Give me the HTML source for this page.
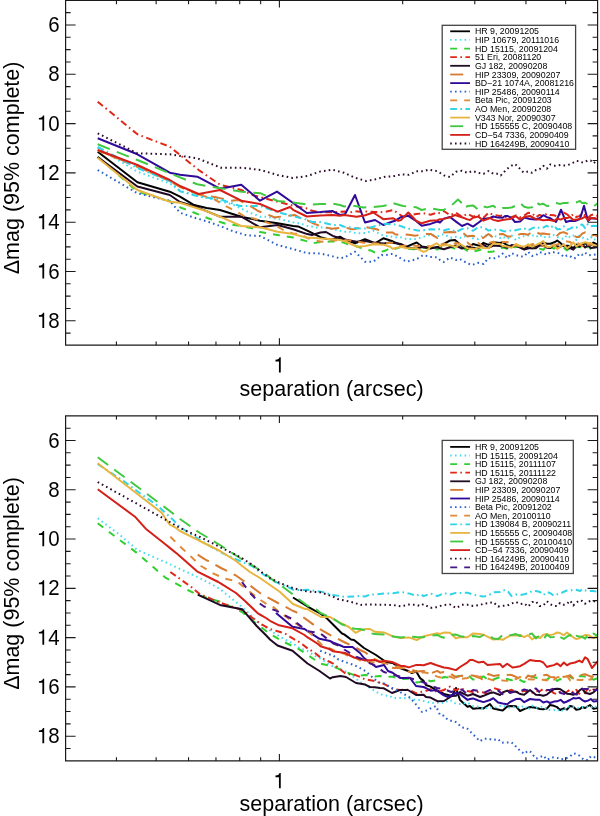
<!DOCTYPE html>
<html><head><meta charset="utf-8"><style>
html,body{margin:0;padding:0;background:#fff;}
svg{display:block;} text{filter:grayscale(1);}
</style></head><body>
<svg width="600" height="816" viewBox="0 0 600 816">
<rect width="600" height="816" fill="#fff"/>
<clipPath id="cliptop"><rect x="65.6" y="0.5" width="532.0" height="344.7"/></clipPath>
<g clip-path="url(#cliptop)" fill="none" stroke-width="2.0" stroke-linejoin="round">
<polyline points="97.7,151.7 137.4,182.3 169.8,191.7 180.0,196.7 193.3,204.7 197.2,205.7 206.7,208.0 220.0,210.0 241.3,216.7 260.0,220.7 277.6,223.3 293.1,225.9 298.0,226.4 307.3,230.6 320.5,237.2 327.0,239.0 332.8,239.2 340.0,236.7 344.2,239.3 355.0,243.3 365.0,239.2 375.0,243.3 383.3,238.3 392.6,241.3 395.0,242.5 400.9,244.8 406.7,246.7 416.7,242.5 423.3,247.5 430.6,248.4 437.3,247.1 440.0,246.7 443.8,243.8 450.0,240.5 455.0,240.0 463.0,247.0 467.5,249.3 473.0,244.0 480.0,246.0 483.5,242.8 488.5,244.9 493.3,242.2 500.0,243.0 502.7,242.1 507.2,245.2 511.6,246.8 515.9,246.3 520.0,247.0 524.2,249.2 528.1,246.7 532.1,244.9 535.9,246.7 540.0,245.0 543.3,242.7 546.9,243.7 550.4,243.7 555.0,242.0 557.2,240.5 560.6,243.1 563.8,246.3 567.0,245.7 570.0,246.0 573.3,248.2 576.3,244.6 579.3,246.4 582.2,245.3 585.1,242.9 588.0,246.0 590.8,245.2 593.5,242.5 598.0,245.0" stroke="#000000"/>
<polyline points="97.7,147.7 137.4,171.7 169.8,183.3 180.0,191.0 197.2,195.5 206.7,198.0 221.0,201.6 233.3,204.7 241.9,208.9 246.7,211.3 260.0,216.7 266.7,216.7 277.6,218.9 283.3,220.0 293.1,222.2 300.0,223.3 307.3,225.9 316.7,227.5 320.5,227.3 333.3,229.2 344.2,231.8 350.0,231.7 356.7,233.3 365.2,233.0 373.3,230.8 383.9,235.9 390.0,236.0 392.6,237.0 400.9,237.4 406.7,239.2 416.4,239.0 423.3,236.7 430.6,234.8 437.3,236.1 440.0,235.8 443.8,233.9 450.0,237.8 456.0,236.8 461.9,238.2 467.5,234.8 473.0,238.3 478.3,238.9 483.5,235.3 488.5,235.4 493.3,235.4 500.0,238.0 502.7,236.6 507.2,239.1 511.6,235.5 515.9,240.1 520.1,237.2 524.2,236.1 528.1,235.6 532.1,235.1 535.9,237.2 539.6,234.7 543.3,237.8 546.9,236.1 550.0,237.0 553.9,235.1 557.2,237.1 560.6,237.9 563.8,239.2 567.0,235.1 570.2,237.4 573.3,235.5 576.3,239.9 579.3,235.7 582.2,237.4 585.1,238.5 588.0,239.2 590.8,237.0 593.5,240.1 598.0,238.0" stroke="#48dcf0" stroke-dasharray="1.6 3.2"/>
<polyline points="97.7,156.7 137.4,191.7 169.8,201.0 180.0,207.3 195.0,213.0 197.2,213.9 210.0,219.0 221.0,222.3 225.0,223.5 241.0,226.0 255.0,229.0 260.0,232.0 277.6,235.0 293.1,237.5 307.3,241.4 312.0,243.4 320.5,242.1 332.8,241.3 340.0,241.7 344.2,242.7 350.0,245.0 355.0,245.7 360.0,247.5 365.2,249.2 371.7,250.8 374.8,252.5 378.3,252.5 385.0,250.8 390.0,248.3 392.6,249.8 400.9,247.1 410.0,249.0 416.4,249.2 423.6,247.1 430.0,247.5 437.3,249.6 440.0,248.0 443.8,248.7 450.0,246.9 456.0,249.2 461.9,247.1 467.5,250.9 473.0,251.7 480.0,250.0 483.5,249.1 488.5,251.9 493.3,251.5 498.1,249.4 502.7,247.6 507.2,248.7 511.6,248.9 515.9,247.0 520.0,247.0 524.2,245.7 528.1,244.4 532.1,248.6 535.9,246.6 539.6,248.6 543.3,249.7 546.9,246.0 550.4,247.1 553.9,248.7 557.2,246.6 560.0,248.0 563.8,247.8 567.0,250.4 570.2,247.3 573.3,249.3 576.3,247.1 579.3,246.6 582.2,248.2 585.1,249.8 588.0,245.8 590.8,249.1 593.5,249.3 598.0,247.0" stroke="#30d030" stroke-dasharray="7 7"/>
<polyline points="97.7,101.7 137.4,134.3 169.8,146.7 198.7,170.0 220.0,184.7 241.3,190.0 253.3,195.3 260.7,197.2 277.6,201.7 293.1,205.6 307.3,208.5 312.0,210.8 320.5,212.3 332.8,212.3 344.2,211.5 350.0,212.5 355.0,211.2 360.0,211.7 365.2,211.4 374.8,211.9 383.9,212.2 393.3,210.0 400.9,215.3 403.3,216.7 408.8,215.6 416.4,214.0 423.6,213.3 430.6,214.7 437.3,212.5 440.0,213.3 443.8,211.0 450.0,215.1 456.0,212.6 461.9,216.8 467.5,213.8 473.0,216.7 478.3,214.9 483.5,217.7 488.5,212.8 493.3,214.8 500.0,216.0 502.7,215.5 507.2,217.6 511.6,217.2 515.9,215.3 520.1,217.2 524.2,215.6 528.1,212.8 532.1,213.1 535.9,217.3 539.6,214.9 543.3,216.2 546.9,213.6 550.0,215.0 553.9,215.2 557.2,216.4 560.6,213.9 563.8,212.5 567.0,214.3 570.2,216.9 573.3,214.1 576.3,217.0 579.3,216.1 582.2,213.5 585.1,215.3 588.0,218.0 590.8,215.2 593.5,214.4 598.0,216.0" stroke="#e02818" stroke-dasharray="6.7 3.4 1.6 3.5"/>
<polyline points="97.7,157.0 137.4,186.5 169.8,195.0 180.0,202.0 197.3,207.3 220.0,216.7 241.3,216.7 260.0,227.3 277.6,225.0 293.1,229.2 307.3,234.1 312.0,235.0 320.5,232.5 326.0,232.0 332.8,235.9 340.0,238.3 344.2,239.5 356.7,241.7 365.2,240.9 373.3,242.5 383.9,243.4 390.0,242.5 392.6,242.8 400.9,243.9 406.7,247.5 416.4,248.4 423.6,246.8 430.6,247.7 437.3,247.4 440.0,248.3 443.8,249.2 450.0,247.2 456.0,245.5 461.9,248.5 467.5,246.4 470.0,248.0 473.0,247.8 478.3,248.2 483.5,244.8 488.5,247.8 493.3,245.6 500.0,246.0 502.7,246.2 507.2,247.8 511.6,245.1 515.9,245.5 520.1,247.5 524.2,249.5 530.0,248.0 535.9,248.3 539.6,245.3 543.3,245.7 546.9,247.7 550.4,247.9 553.9,244.8 557.2,246.2 560.0,247.0 563.8,244.6 567.0,248.5 570.2,248.0 573.3,249.6 576.3,245.8 579.3,246.7 582.2,244.2 585.1,247.5 588.0,245.4 590.8,248.1 593.5,247.8 598.0,247.0" stroke="#200a24"/>
<polyline points="97.7,150.0 137.4,166.7 169.8,181.0 180.0,187.0 198.7,194.5 215.0,197.0 221.0,198.4 230.7,200.7 238.7,200.0 241.9,201.6 248.0,204.7 258.7,211.3 266.7,214.2 275.0,217.5 277.6,217.1 286.7,215.8 295.0,215.0 305.0,220.8 307.3,220.3 313.3,223.3 320.5,226.3 323.3,226.7 331.7,228.7 345.0,227.5 351.7,229.2 355.0,229.0 363.3,226.7 376.7,229.2 383.3,232.5 392.6,232.4 395.0,234.2 400.9,235.1 403.3,234.2 408.8,234.7 415.0,235.8 423.3,234.2 430.6,233.9 435.0,236.7 437.3,237.9 443.8,232.4 450.0,232.0 456.0,232.3 461.9,232.1 467.5,236.5 470.0,236.0 473.0,235.7 478.3,238.3 483.5,237.8 488.5,234.0 493.3,237.7 498.1,234.3 502.7,233.9 507.2,236.4 511.6,236.4 515.9,236.5 520.0,234.0 524.2,233.9 528.1,234.7 532.1,231.8 535.9,232.2 539.6,233.7 543.3,233.5 546.9,233.9 550.4,234.2 553.9,232.7 557.2,235.4 560.0,233.0 563.8,232.1 567.0,233.6 570.2,236.1 573.3,235.6 576.3,236.9 579.3,236.9 582.2,233.7 585.1,232.3 588.0,232.8 590.8,236.2 593.5,234.9 598.0,236.0" stroke="#d87a30" stroke-dasharray="13 7.5"/>
<polyline points="97.7,138.3 137.4,154.3 169.8,172.7 180.0,174.7 197.3,176.7 220.0,188.7 241.3,184.7 260.0,200.7 277.0,191.6 293.1,203.0 306.8,213.0 320.5,212.1 332.3,211.0 340.0,215.0 345.0,214.2 355.0,195.0 365.0,222.5 375.0,220.0 383.3,225.0 392.6,221.5 395.0,220.8 400.9,217.2 408.3,215.8 416.4,221.2 421.7,225.8 430.6,223.9 437.3,221.5 440.0,222.5 443.8,218.6 450.0,217.0 456.0,221.6 462.0,226.0 467.5,223.7 473.0,226.6 478.0,223.0 483.5,218.9 490.0,218.0 493.3,216.5 498.1,217.6 502.7,217.7 505.0,216.0 507.2,215.9 511.6,217.8 515.0,222.0 520.1,221.6 524.2,217.5 530.0,219.0 535.9,219.5 540.0,218.0 543.3,215.2 546.9,217.2 550.0,218.0 556.0,222.0 561.0,209.7 566.0,222.0 570.2,220.7 575.0,221.0 580.0,219.0 584.0,205.7 588.0,221.0 590.8,218.3 593.5,218.6 598.0,219.0" stroke="#300a98"/>
<polyline points="97.7,170.0 137.4,193.3 169.8,201.0 180.0,212.7 193.3,217.3 197.2,218.5 206.7,221.3 220.0,226.0 233.3,231.3 241.9,233.9 246.7,235.3 260.0,236.0 277.6,245.0 293.1,249.1 298.0,250.5 307.3,253.2 320.5,253.5 332.8,256.4 340.0,258.3 344.2,257.6 355.0,251.7 365.0,261.7 373.3,261.7 381.7,255.0 383.9,255.4 390.0,254.2 392.6,253.9 400.9,258.5 406.7,261.7 416.4,259.3 423.3,255.0 430.6,256.9 437.3,257.3 440.0,260.0 443.8,262.0 450.0,257.4 456.0,260.0 460.0,259.0 467.5,263.4 472.0,265.0 478.3,262.8 483.5,263.9 488.5,257.9 493.3,258.7 500.0,256.0 502.7,253.6 507.2,258.1 511.6,253.2 515.9,255.0 520.1,256.5 524.2,256.5 528.1,251.8 532.1,255.9 535.9,255.4 539.6,252.2 543.0,253.0 546.9,254.9 550.4,252.3 553.9,252.3 557.2,252.7 560.6,253.9 563.8,257.1 567.0,255.5 570.0,256.0 573.3,258.5 576.3,257.8 579.3,253.7 582.2,254.8 585.1,252.5 588.0,255.2 590.8,255.1 593.5,254.8 598.0,254.0" stroke="#2a60cc" stroke-dasharray="1.6 3.2"/>
<polyline points="97.7,150.5 137.4,167.0 169.8,181.0 180.0,186.5 198.7,194.5 208.0,197.3 214.7,199.3 221.0,203.4 224.0,205.3 230.7,208.7 236.0,211.3 244.0,216.0 249.3,217.3 262.0,221.0 275.0,225.0 277.6,226.6 283.3,230.0 293.1,233.5 300.0,234.0 307.3,238.1 313.3,240.0 321.7,241.7 332.8,240.6 340.0,240.0 344.2,240.0 355.0,241.2 365.2,243.0 374.8,243.3 380.0,244.0 383.9,243.3 392.6,242.7 400.9,246.3 408.8,245.0 416.4,245.9 423.6,245.7 430.6,246.5 437.3,244.7 440.0,245.0 443.8,243.4 450.0,245.5 456.0,242.8 461.9,244.7 467.5,242.4 473.0,247.1 478.3,243.0 483.5,247.0 488.5,243.1 493.3,241.6 500.0,244.0 502.7,242.1 507.2,241.9 511.6,245.4 515.9,245.6 520.1,246.3 524.2,243.8 528.1,245.7 532.1,244.1 535.9,244.3 539.6,242.7 543.3,246.3 546.9,246.6 550.4,246.5 553.9,244.7 557.2,244.6 560.6,242.6 563.8,241.7 567.0,241.4 570.2,242.0 573.3,244.8 576.3,241.9 579.3,244.0 582.2,246.1 585.1,241.7 588.0,244.7 590.8,244.7 593.5,244.4 598.0,244.0" stroke="#e08a38" stroke-dasharray="7 7"/>
<polyline points="97.7,147.0 137.4,168.0 169.8,181.0 180.0,191.3 197.2,196.0 200.0,196.7 220.0,199.3 240.0,206.0 260.0,206.0 277.6,212.0 293.1,216.2 307.3,219.8 312.0,222.0 320.5,222.1 332.8,225.0 340.0,225.0 344.2,226.7 356.7,228.3 365.2,228.6 373.3,226.7 383.9,223.8 390.0,224.2 392.6,223.9 400.9,226.1 406.7,228.3 416.4,230.2 420.0,230.8 423.6,230.2 431.7,229.2 437.3,229.8 440.0,229.0 443.8,230.3 450.0,228.9 456.0,231.9 461.9,229.1 467.5,228.3 473.0,230.8 478.3,227.1 483.5,227.3 488.5,230.6 493.3,229.5 500.0,230.0 502.7,230.9 507.2,231.6 511.6,230.1 515.9,230.3 520.1,229.1 524.2,228.3 528.1,230.5 532.1,228.3 535.9,226.7 539.6,228.1 543.3,227.6 546.9,225.7 550.0,228.0 553.9,225.3 557.2,229.3 560.6,228.9 563.8,226.4 567.0,229.8 570.2,228.6 573.3,227.0 576.3,227.7 579.3,225.3 582.2,224.4 585.1,228.1 588.0,224.0 590.8,226.3 593.5,225.8 598.0,226.0" stroke="#30d4e8" stroke-dasharray="6.7 3.4 1.6 3.5"/>
<polyline points="97.7,157.7 137.4,190.0 169.8,201.7 180.0,202.7 197.2,208.2 206.7,211.3 220.0,216.7 241.3,226.0 260.0,227.3 277.6,231.7 293.1,234.1 307.3,237.7 312.0,237.7 320.5,238.4 332.8,239.3 340.0,240.0 344.2,241.0 356.7,246.7 365.2,245.9 373.3,244.2 383.9,244.8 390.0,246.7 392.6,248.8 400.9,246.7 406.7,248.3 416.7,248.3 423.6,251.9 426.7,250.8 430.6,246.3 436.7,243.3 440.0,246.0 443.8,245.3 450.0,245.3 456.0,246.9 460.0,244.0 467.5,248.4 475.0,249.0 478.3,247.3 483.5,248.1 488.5,248.3 493.3,243.5 500.0,244.0 502.7,246.0 507.2,246.5 511.6,247.8 515.9,244.0 520.0,246.0 524.2,246.7 528.1,244.5 532.1,246.7 535.9,245.1 540.0,243.0 543.3,241.0 546.9,246.9 550.4,246.9 553.9,244.6 557.2,249.1 560.0,247.0 563.8,244.5 567.0,248.4 570.2,246.0 573.3,242.3 576.3,246.3 580.0,244.0 582.2,243.2 585.1,242.2 588.0,243.0 590.8,242.9 593.5,245.2 598.0,246.0" stroke="#e8b440"/>
<polyline points="97.7,144.3 137.4,160.0 169.8,173.3 197.2,184.3 221.0,188.3 241.9,191.7 260.7,193.3 277.6,201.0 293.1,202.5 307.0,204.6 320.5,204.1 332.8,203.6 340.0,205.0 344.2,206.5 350.0,205.8 355.0,206.0 363.3,207.5 373.0,207.0 383.0,206.0 390.0,204.7 392.6,203.0 403.0,206.0 410.0,206.7 416.4,207.3 421.7,210.0 430.0,208.0 437.3,209.5 440.0,210.0 443.8,209.9 452.0,205.0 458.0,199.5 461.9,203.1 465.0,208.0 467.5,206.0 473.0,205.4 478.3,209.7 483.5,206.4 487.0,207.4 493.3,205.8 498.1,209.6 502.7,208.0 507.2,207.9 511.6,207.5 515.0,206.0 520.1,203.0 524.2,206.8 528.1,207.7 532.1,207.3 535.9,202.0 539.6,204.6 543.0,203.7 546.9,206.0 550.4,205.5 553.9,203.2 557.2,203.1 560.0,204.0 563.8,202.9 567.0,203.1 570.2,202.0 573.3,202.8 576.3,202.4 580.0,201.0 582.2,203.1 585.1,202.8 590.0,205.0 593.5,206.6 598.0,203.0" stroke="#40c840" stroke-dasharray="13 7.5"/>
<polyline points="97.7,150.0 137.4,165.0 169.8,180.0 180.0,186.0 198.7,194.0 220.0,190.0 241.3,200.7 260.0,204.0 277.6,211.7 290.0,207.0 293.1,209.8 306.8,216.5 320.5,215.4 332.8,214.9 340.0,215.8 344.2,215.0 356.7,216.7 365.2,215.2 373.3,212.5 383.3,219.2 393.3,218.3 398.3,220.8 400.9,220.1 408.3,212.5 416.4,221.0 421.7,223.3 430.0,220.8 437.3,220.3 440.0,219.2 443.8,218.9 450.0,217.4 455.0,215.0 461.9,217.2 467.5,219.4 470.0,220.0 473.0,217.7 478.3,216.6 483.5,220.7 490.0,218.0 493.3,219.9 498.1,221.0 502.7,220.0 507.2,219.3 510.0,219.0 515.9,216.2 520.1,219.6 524.2,217.0 530.0,216.0 535.9,219.2 539.6,219.5 543.3,220.3 546.9,220.1 550.0,220.0 553.9,221.1 557.2,218.5 560.6,219.6 563.8,218.1 567.0,218.1 570.0,217.0 573.3,219.9 576.3,219.6 579.3,218.9 582.2,218.4 585.1,216.6 588.0,220.2 590.8,218.0 593.5,218.0 598.0,219.0" stroke="#d42018"/>
<polyline points="97.7,133.3 137.4,153.3 169.8,154.3 197.2,158.3 221.0,167.7 241.9,167.7 260.7,170.0 277.6,175.0 292.7,178.0 307.3,176.0 320.5,171.4 332.3,169.7 344.2,172.8 355.0,177.8 366.3,181.0 374.8,179.5 383.9,177.0 394.6,176.0 400.9,174.4 408.8,174.8 416.4,171.3 423.6,171.3 428.6,169.7 437.3,171.2 444.0,175.4 450.0,177.1 456.0,171.8 461.9,170.8 467.5,172.9 472.5,171.0 478.3,172.8 483.5,173.8 488.5,171.0 493.3,173.8 498.1,173.7 500.8,175.4 507.2,168.8 511.6,165.6 515.0,164.0 520.1,168.9 523.5,172.6 528.1,171.4 532.1,172.8 535.9,170.1 539.6,169.3 543.3,165.8 546.9,168.7 550.4,164.4 553.9,165.8 557.5,165.5 560.6,165.0 563.8,165.4 567.0,165.4 570.2,164.1 573.3,162.6 576.3,160.8 579.3,161.3 583.0,162.7 588.0,160.4 590.8,160.6 593.5,163.4 598.0,159.8" stroke="#2a0c2a" stroke-dasharray="1.6 3.2"/>
</g>
<path d="M65.6,0.5 H597.6 V345.2 H65.6 Z" fill="none" stroke="#1a1a1a" stroke-width="1.2"/>
<path d="M65.6,12.67h5M597.6,12.67h-5M65.6,25.0h10M597.6,25.0h-10M65.6,37.32h5M597.6,37.32h-5M65.6,49.65h5M597.6,49.65h-5M65.6,61.98h5M597.6,61.98h-5M65.6,74.3h10M597.6,74.3h-10M65.6,86.62h5M597.6,86.62h-5M65.6,98.95h5M597.6,98.95h-5M65.6,111.27h5M597.6,111.27h-5M65.6,123.6h10M597.6,123.6h-10M65.6,135.92h5M597.6,135.92h-5M65.6,148.25h5M597.6,148.25h-5M65.6,160.57h5M597.6,160.57h-5M65.6,172.9h10M597.6,172.9h-10M65.6,185.22h5M597.6,185.22h-5M65.6,197.55h5M597.6,197.55h-5M65.6,209.87h5M597.6,209.87h-5M65.6,222.2h10M597.6,222.2h-10M65.6,234.52h5M597.6,234.52h-5M65.6,246.85h5M597.6,246.85h-5M65.6,259.18h5M597.6,259.18h-5M65.6,271.5h10M597.6,271.5h-10M65.6,283.82h5M597.6,283.82h-5M65.6,296.15h5M597.6,296.15h-5M65.6,308.48h5M597.6,308.48h-5M65.6,320.8h10M597.6,320.8h-10M65.6,333.12h5M597.6,333.12h-5M116.44,345.2v-3.7M116.44,0.5v3.7M156.13,345.2v-3.7M156.13,0.5v3.7M188.55,345.2v-3.7M188.55,0.5v3.7M215.97,345.2v-3.7M215.97,0.5v3.7M239.72,345.2v-3.7M239.72,0.5v3.7M260.66,345.2v-3.7M260.66,0.5v3.7M279.4,345.2v-7M279.4,0.5v7M402.67,345.2v-3.7M402.67,0.5v3.7M474.78,345.2v-3.7M474.78,0.5v3.7M525.94,345.2v-3.7M525.94,0.5v3.7M565.63,345.2v-3.7M565.63,0.5v3.7" stroke="#1a1a1a" stroke-width="1.1" fill="none"/>
<text transform="translate(48.22,32.10) scale(0.93,1)" font-size="22" font-family="'Liberation Sans', sans-serif">6</text>
<text transform="translate(48.22,81.40) scale(0.93,1)" font-size="22" font-family="'Liberation Sans', sans-serif">8</text>
<path transform="translate(36.84,130.70) scale(0.00999,-0.01074)" d="M555,0L735,0L735,1420L610,1420C590,1290 470,1195 207,1190L207,1040L555,1040Z"/>
<text transform="translate(48.22,130.70) scale(0.93,1)" font-size="22" font-family="'Liberation Sans', sans-serif">0</text>
<path transform="translate(36.84,180.00) scale(0.00999,-0.01074)" d="M555,0L735,0L735,1420L610,1420C590,1290 470,1195 207,1190L207,1040L555,1040Z"/>
<text transform="translate(48.22,180.00) scale(0.93,1)" font-size="22" font-family="'Liberation Sans', sans-serif">2</text>
<path transform="translate(36.84,229.30) scale(0.00999,-0.01074)" d="M555,0L735,0L735,1420L610,1420C590,1290 470,1195 207,1190L207,1040L555,1040Z"/>
<text transform="translate(48.22,229.30) scale(0.93,1)" font-size="22" font-family="'Liberation Sans', sans-serif">4</text>
<path transform="translate(36.84,278.60) scale(0.00999,-0.01074)" d="M555,0L735,0L735,1420L610,1420C590,1290 470,1195 207,1190L207,1040L555,1040Z"/>
<text transform="translate(48.22,278.60) scale(0.93,1)" font-size="22" font-family="'Liberation Sans', sans-serif">6</text>
<path transform="translate(36.84,327.90) scale(0.00999,-0.01074)" d="M555,0L735,0L735,1420L610,1420C590,1290 470,1195 207,1190L207,1040L555,1040Z"/>
<text transform="translate(48.22,327.90) scale(0.93,1)" font-size="22" font-family="'Liberation Sans', sans-serif">8</text>
<path transform="translate(273.41,372.60) scale(0.00999,-0.01074)" d="M555,0L735,0L735,1420L610,1420C590,1290 470,1195 207,1190L207,1040L555,1040Z"/>
<text x="331.6" y="395.7" text-anchor="middle" font-size="21.5" font-family="'Liberation Sans', sans-serif">separation (arcsec)</text>
<text transform="translate(18.6,167.9) rotate(-90)" text-anchor="middle" font-size="21.5" font-family="'Liberation Sans', sans-serif">Δmag (95% complete)</text>
<rect x="442.2" y="25.3" width="133.4" height="124.0" fill="#fff" stroke="#444" stroke-width="1.3"/>
<line x1="450.2" y1="31.3" x2="470" y2="31.3" stroke="#000000" stroke-width="1.8"/>
<text x="474.9" y="34.4" font-size="8.8" font-family="'Liberation Sans', sans-serif">HR 9, 20091205</text>
<line x1="450.2" y1="39.9" x2="470" y2="39.9" stroke="#48dcf0" stroke-width="1.8" stroke-dasharray="1.6 3.2"/>
<text x="474.9" y="43.0" font-size="8.8" font-family="'Liberation Sans', sans-serif">HIP 10679, 20111016</text>
<line x1="450.2" y1="48.6" x2="470" y2="48.6" stroke="#30d030" stroke-width="1.8" stroke-dasharray="7 7"/>
<text x="474.9" y="51.7" font-size="8.8" font-family="'Liberation Sans', sans-serif">HD 15115, 20091204</text>
<line x1="450.2" y1="57.2" x2="470" y2="57.2" stroke="#e02818" stroke-width="1.8" stroke-dasharray="6.7 3.4 1.6 3.5"/>
<text x="474.9" y="60.3" font-size="8.8" font-family="'Liberation Sans', sans-serif">51 Eri, 20081120</text>
<line x1="450.2" y1="65.8" x2="470" y2="65.8" stroke="#200a24" stroke-width="1.8"/>
<text x="474.9" y="68.9" font-size="8.8" font-family="'Liberation Sans', sans-serif">GJ 182, 20090208</text>
<line x1="450.2" y1="74.5" x2="470" y2="74.5" stroke="#d87a30" stroke-width="1.8" stroke-dasharray="13 7.5"/>
<text x="474.9" y="77.5" font-size="8.8" font-family="'Liberation Sans', sans-serif">HIP 23309, 20090207</text>
<line x1="450.2" y1="83.1" x2="470" y2="83.1" stroke="#300a98" stroke-width="1.8"/>
<text x="474.9" y="86.2" font-size="8.8" font-family="'Liberation Sans', sans-serif">BD−21 1074A, 20081216</text>
<line x1="450.2" y1="91.7" x2="470" y2="91.7" stroke="#2a60cc" stroke-width="1.8" stroke-dasharray="1.6 3.2"/>
<text x="474.9" y="94.8" font-size="8.8" font-family="'Liberation Sans', sans-serif">HIP 25486, 20090114</text>
<line x1="450.2" y1="100.3" x2="470" y2="100.3" stroke="#e08a38" stroke-width="1.8" stroke-dasharray="7 7"/>
<text x="474.9" y="103.4" font-size="8.8" font-family="'Liberation Sans', sans-serif">Beta Pic, 20091203</text>
<line x1="450.2" y1="109.0" x2="470" y2="109.0" stroke="#30d4e8" stroke-width="1.8" stroke-dasharray="6.7 3.4 1.6 3.5"/>
<text x="474.9" y="112.1" font-size="8.8" font-family="'Liberation Sans', sans-serif">AO Men, 20090208</text>
<line x1="450.2" y1="117.6" x2="470" y2="117.6" stroke="#e8b440" stroke-width="1.8"/>
<text x="474.9" y="120.7" font-size="8.8" font-family="'Liberation Sans', sans-serif">V343 Nor, 20090307</text>
<line x1="450.2" y1="126.2" x2="470" y2="126.2" stroke="#40c840" stroke-width="1.8" stroke-dasharray="13 7.5"/>
<text x="474.9" y="129.3" font-size="8.8" font-family="'Liberation Sans', sans-serif">HD 155555 C, 20090408</text>
<line x1="450.2" y1="134.9" x2="470" y2="134.9" stroke="#d42018" stroke-width="1.8"/>
<text x="474.9" y="138.0" font-size="8.8" font-family="'Liberation Sans', sans-serif">CD−54 7336, 20090409</text>
<line x1="450.2" y1="143.5" x2="470" y2="143.5" stroke="#2a0c2a" stroke-width="1.8" stroke-dasharray="1.6 3.2"/>
<text x="474.9" y="146.6" font-size="8.8" font-family="'Liberation Sans', sans-serif">HD 164249B, 20090410</text>
<clipPath id="clipbot"><rect x="65.6" y="415.9" width="532.0" height="345.0"/></clipPath>
<g clip-path="url(#clipbot)" fill="none" stroke-width="2.0" stroke-linejoin="round">
<polyline points="293.0,597.5 309.0,607.3 321.0,614.0 327.0,618.5 334.5,626.0 342.0,633.5 344.2,634.4 351.0,639.5 354.0,640.0 364.0,648.0 376.0,655.0 386.0,662.0 392.6,663.0 400.0,668.0 408.8,671.3 412.0,673.0 416.0,671.0 420.0,678.0 423.6,680.9 426.0,685.0 430.6,686.6 436.0,690.0 444.0,694.0 452.0,696.0 456.0,688.0 460.0,700.0 467.5,706.8 470.0,706.0 473.0,708.7 480.0,708.0 483.5,708.4 490.0,704.0 493.3,708.6 500.0,710.0 502.7,710.4 507.2,706.5 510.0,706.0 515.9,706.2 520.0,711.0 524.2,709.1 530.0,707.0 535.9,707.7 540.0,709.0 543.3,709.2 546.9,708.6 550.0,705.0 553.9,705.8 557.2,707.2 560.0,710.0 563.8,708.3 567.0,709.6 570.0,706.0 573.3,706.7 576.3,709.8 580.0,709.0 582.2,707.0 585.1,708.0 590.0,705.0 593.5,708.7 598.0,708.0" stroke="#000000"/>
<polyline points="97.7,518.3 120.0,535.0 137.4,550.0 165.0,562.0 169.8,564.2 180.0,569.0 197.2,576.8 200.0,578.0 220.0,589.0 242.0,607.0 258.0,622.0 260.7,623.9 270.0,630.5 277.6,635.1 285.0,639.5 293.1,643.5 300.0,648.5 307.3,650.9 315.0,656.0 320.5,658.6 330.0,665.0 332.8,666.3 345.0,671.0 355.0,677.8 360.0,682.0 365.2,684.6 374.8,691.1 380.0,694.0 383.9,695.4 390.0,696.0 392.6,698.0 400.0,698.0 408.8,698.2 416.4,700.1 420.0,700.0 423.6,701.0 430.6,702.9 437.3,702.8 440.0,702.0 443.8,703.1 450.0,700.0 456.0,703.8 460.0,704.0 467.5,702.6 473.0,706.0 480.0,707.0 483.5,709.2 488.5,707.1 493.3,708.2 500.0,706.0 502.7,705.1 507.2,707.4 511.6,707.9 515.9,706.2 520.0,708.0 524.2,705.4 528.1,709.8 532.1,705.5 535.9,707.8 540.0,707.0 543.3,706.4 546.9,710.1 550.4,710.0 553.9,709.8 557.2,711.2 560.0,709.0 563.8,711.5 567.0,706.2 570.2,706.9 573.3,706.8 576.3,707.2 579.3,708.3 582.2,707.0 585.1,707.4 588.0,707.1 590.8,707.9 593.5,705.5 598.0,708.0" stroke="#48dcf0" stroke-dasharray="1.6 3.2"/>
<polyline points="97.7,523.3 137.4,553.3 165.0,577.3 169.8,580.0 187.7,590.0 198.3,595.3 221.0,602.0 242.0,612.0 260.7,627.0 270.0,634.0 277.6,638.3 285.0,642.5 293.1,646.3 295.5,647.0 306.0,653.8 318.0,662.0 320.5,663.6 330.0,665.8 332.8,666.2 345.0,671.8 357.0,676.0 365.2,674.9 374.8,676.4 380.0,676.0 383.9,676.8 392.6,676.8 400.0,679.0 408.8,678.7 416.4,682.4 420.0,682.0 423.6,679.5 428.0,680.0 430.6,681.3 437.3,680.1 444.0,677.0 450.0,677.7 456.0,676.5 460.0,676.0 467.5,675.0 473.0,679.6 480.0,679.0 483.5,676.2 488.5,680.4 493.3,679.5 500.0,677.0 502.7,678.8 507.2,679.0 511.6,680.3 515.9,678.9 520.0,680.0 524.2,682.1 528.1,678.8 532.1,676.2 535.9,677.9 540.0,677.0 543.3,679.9 546.9,679.6 550.4,677.1 553.9,678.1 557.2,681.0 560.0,679.0 563.8,680.1 567.0,676.0 570.2,676.9 573.3,678.8 576.3,678.8 580.0,676.0 582.2,676.3 585.1,676.6 588.0,675.1 590.8,678.3 593.5,679.7 598.0,678.0" stroke="#30d030" stroke-dasharray="7 7"/>
<polyline points="170.3,572.0 191.7,587.3 197.2,591.9 199.7,594.0 221.0,603.0 242.0,610.0 260.7,624.0 270.0,629.0 277.6,631.3 285.0,633.5 293.1,638.7 300.0,642.5 307.3,648.1 315.0,653.0 320.5,657.5 330.0,662.0 332.8,663.3 346.0,674.0 355.0,674.8 360.0,677.0 365.2,679.4 374.8,681.0 380.0,683.0 383.9,683.9 392.6,688.7 400.0,690.0 408.8,689.6 416.4,693.3 420.0,692.0 423.6,691.6 430.6,689.2 437.3,691.9 443.8,690.0 450.0,686.6 456.0,690.3 460.0,688.0 467.5,691.0 473.0,691.9 480.0,692.0 483.5,692.5 488.5,693.9 493.3,687.9 500.0,690.0 502.7,692.9 507.2,691.5 511.6,689.8 515.9,692.2 520.0,692.0 524.2,690.9 528.1,692.4 532.1,692.5 535.9,691.3 540.0,691.0 543.3,688.9 546.9,690.7 550.4,690.4 553.9,693.1 557.2,694.3 560.0,692.0 563.8,693.3 567.0,691.8 570.2,689.6 573.3,692.5 576.3,689.8 579.3,693.8 582.2,689.0 585.1,693.3 588.0,687.8 590.8,691.9 593.5,689.4 598.0,690.0" stroke="#e02818" stroke-dasharray="6.7 3.4 1.6 3.5"/>
<polyline points="197.7,594.7 221.0,605.3 242.3,609.3 256.7,626.0 260.7,630.0 266.0,635.3 270.0,639.5 277.5,645.5 292.5,650.8 307.5,663.5 319.5,671.0 330.0,678.5 332.8,677.2 340.5,676.0 346.0,677.0 356.0,683.0 365.2,684.6 370.0,687.0 374.8,687.2 380.0,688.0 383.9,688.3 392.0,693.0 400.0,690.0 408.0,690.0 416.0,695.0 423.6,694.8 426.0,697.0 430.6,697.6 437.3,701.2 444.0,701.0 452.0,696.0 456.0,695.7 460.0,692.0 467.5,695.7 470.0,695.0 473.0,694.0 480.0,697.0 483.5,695.8 490.0,693.0 493.3,692.4 500.0,695.0 502.7,692.4 507.2,690.6 510.0,692.0 515.9,691.6 520.0,694.0 524.2,694.7 530.0,690.0 535.9,694.8 540.0,695.0 543.3,695.7 546.9,694.6 550.0,692.0 553.9,689.1 557.2,688.8 560.0,689.0 563.8,691.6 567.0,693.8 570.0,694.0 573.3,694.7 576.3,693.6 580.0,690.0 582.2,688.6 585.1,692.7 590.0,694.0 593.5,692.3 598.0,688.0" stroke="#200a24"/>
<polyline points="197.7,554.7 205.0,559.3 221.0,568.0 235.7,575.3 241.9,579.7 250.0,585.5 260.0,593.0 267.0,597.0 278.0,603.0 285.0,606.5 293.1,611.0 296.0,612.0 303.0,617.0 307.3,620.1 319.5,629.0 333.0,636.5 345.0,642.5 355.0,647.3 360.0,650.0 365.2,652.3 370.0,656.3 374.8,659.1 383.9,663.2 393.3,668.0 400.9,667.9 408.8,668.8 416.7,671.5 423.6,671.0 430.6,673.4 437.3,670.9 440.0,672.7 443.8,671.9 450.0,673.3 456.0,677.2 460.0,676.0 467.5,675.4 473.0,675.5 480.0,678.0 483.5,680.2 488.5,674.0 493.3,675.9 500.0,675.0 502.7,673.7 507.2,674.7 511.6,675.0 515.9,676.9 520.0,679.0 524.2,680.1 528.1,675.5 532.1,677.1 535.9,674.8 540.0,676.0 543.3,675.2 546.9,674.8 550.4,677.0 553.9,677.2 557.2,678.7 560.0,678.0 563.8,676.7 567.0,676.5 570.2,675.2 573.3,678.4 576.3,677.0 580.0,675.0 582.2,674.8 585.1,674.3 588.0,675.4 590.8,676.6 593.5,676.6 598.0,678.0" stroke="#d87a30" stroke-dasharray="13 7.5"/>
<polyline points="276.0,613.0 292.5,626.8 304.5,629.0 307.3,630.8 319.5,638.8 330.0,641.0 332.8,642.5 340.5,645.5 344.2,647.1 352.5,647.0 355.0,649.0 360.0,653.0 364.0,658.0 376.0,667.0 384.0,665.0 388.0,671.0 392.6,672.7 400.0,678.0 410.0,678.0 416.0,686.0 423.6,687.0 426.0,688.0 430.6,690.7 436.0,690.0 443.8,695.4 448.0,697.0 456.0,693.0 460.0,694.0 467.5,699.9 470.0,699.0 473.0,698.4 478.3,700.5 483.5,702.1 490.0,700.0 493.3,698.2 498.1,702.5 502.7,703.5 507.2,704.3 510.0,702.0 515.9,699.1 520.1,698.8 524.2,702.2 530.0,699.0 535.9,699.7 539.6,699.7 543.3,702.5 546.9,701.4 550.0,703.0 553.9,701.6 557.2,701.3 560.6,699.8 563.8,702.8 567.0,701.5 570.0,700.0 573.3,698.1 576.3,698.4 579.3,697.7 582.2,700.1 585.1,701.5 588.0,700.6 590.8,699.0 593.5,701.4 598.0,701.0" stroke="#300a98"/>
<polyline points="320.2,650.8 330.0,654.5 332.8,655.2 337.5,659.0 345.0,662.0 354.0,665.0 360.0,668.0 365.2,670.9 374.8,679.4 380.0,683.0 383.9,683.4 392.0,688.0 400.0,692.0 408.8,696.8 414.0,702.0 416.4,704.8 422.0,712.0 428.0,710.0 430.6,708.4 436.0,706.0 440.0,715.0 443.8,715.8 448.0,720.0 453.3,721.3 456.0,722.1 461.9,727.5 466.7,728.0 474.7,736.0 480.0,741.3 483.5,738.9 488.5,738.7 493.3,740.0 498.1,739.0 501.3,742.7 507.2,742.4 511.6,742.4 514.7,745.3 520.0,750.7 524.2,753.9 528.1,750.7 530.7,752.0 535.9,758.6 538.7,757.9 543.3,755.6 546.9,759.8 552.0,757.3 557.2,757.9 560.6,759.3 565.3,758.7 570.2,756.3 573.3,753.3 576.3,753.9 579.3,755.6 584.0,760.0 588.0,760.0 590.8,756.2 594.7,757.3 598.0,758.0" stroke="#2a60cc" stroke-dasharray="1.6 3.2"/>
<polyline points="170.3,536.7 181.7,548.0 191.7,557.3 197.2,562.5 201.0,566.0 213.0,573.3 221.0,576.9 225.0,578.7 237.0,581.3 241.9,585.4 250.0,592.0 257.0,597.5 262.0,601.0 269.0,605.5 274.0,607.5 277.6,610.8 280.0,613.0 285.0,616.0 292.5,621.5 307.5,630.5 322.5,645.5 332.8,649.7 336.0,651.5 344.2,653.7 348.0,656.0 355.0,657.3 360.0,660.5 365.2,661.9 370.0,662.0 374.8,662.7 383.9,662.9 393.3,666.0 400.9,667.1 408.8,671.8 416.7,672.7 423.6,672.3 430.6,673.6 437.3,676.6 440.0,677.3 443.8,677.9 450.0,676.5 456.0,679.1 460.0,679.0 467.5,678.0 473.0,675.0 480.0,677.0 483.5,675.5 488.5,678.9 493.3,680.3 500.0,680.0 502.7,680.4 507.2,680.8 511.6,678.6 515.9,679.2 520.0,677.0 524.2,677.6 528.1,679.2 532.1,679.4 535.9,679.1 540.0,680.0 543.3,679.7 546.9,680.4 550.4,676.9 553.9,679.6 557.2,677.2 560.0,677.0 563.8,677.9 567.0,676.0 570.2,680.4 573.3,678.3 576.3,679.7 580.0,680.0 582.2,680.1 585.1,677.0 588.0,679.4 590.8,679.6 593.5,675.3 598.0,677.0" stroke="#e08a38" stroke-dasharray="7 7"/>
<polyline points="97.7,464.0 106.7,470.0 123.3,480.8 137.4,491.3 140.0,493.3 156.7,505.0 169.8,516.9 173.3,520.0 180.0,527.0 197.2,538.2 200.0,540.0 220.0,552.0 240.0,561.0 252.0,566.0 260.0,572.0 270.0,579.0 277.6,582.8 280.0,584.0 290.0,588.0 293.1,589.7 300.0,590.0 307.3,589.8 322.5,592.0 332.8,594.9 345.0,596.8 355.0,596.4 360.0,596.0 365.2,596.5 370.0,594.5 374.8,594.4 383.9,593.5 393.3,593.3 400.9,591.8 408.8,593.4 416.4,595.8 420.0,594.0 423.6,596.1 430.6,593.5 437.3,596.1 440.0,595.0 443.8,593.0 450.0,594.5 456.0,592.9 460.0,593.0 467.5,592.8 473.0,594.6 480.0,596.0 483.5,596.6 488.5,595.3 493.3,592.4 500.0,592.0 502.7,590.3 507.2,590.4 511.6,596.1 515.9,594.5 520.0,595.0 524.2,594.3 528.1,593.3 532.1,591.0 535.9,591.1 540.0,592.0 543.3,595.0 546.9,592.0 550.4,593.2 553.9,595.8 557.2,594.3 560.0,594.0 563.8,591.7 567.0,590.5 570.2,590.6 573.3,589.8 576.3,589.7 580.0,591.0 582.2,589.2 585.1,590.3 588.0,591.3 590.8,590.9 593.5,591.0 598.0,592.0" stroke="#30d4e8" stroke-dasharray="6.7 3.4 1.6 3.5"/>
<polyline points="97.7,463.3 137.4,494.0 161.7,512.7 169.7,524.7 175.0,527.3 180.0,531.0 197.2,539.6 200.0,541.0 220.0,551.0 236.0,561.0 241.9,565.7 250.0,572.0 260.0,578.0 270.0,585.0 277.6,590.3 280.0,592.0 293.0,604.0 305.0,609.0 307.3,609.1 321.0,617.0 330.0,617.0 332.8,618.6 340.5,623.0 344.2,624.6 349.5,627.5 355.5,632.8 360.0,630.5 365.2,629.1 370.0,629.0 374.8,631.8 383.9,632.4 393.3,636.5 400.9,638.0 408.8,637.4 416.7,640.0 423.6,636.3 430.6,634.7 437.3,633.3 440.0,634.0 443.8,632.6 450.0,632.8 456.0,638.4 460.0,637.0 467.5,637.2 473.0,633.4 480.0,634.0 483.5,634.7 488.5,637.2 493.3,639.5 500.0,639.0 502.7,639.9 507.2,637.2 511.6,635.2 515.9,635.6 520.0,635.0 524.2,637.1 528.1,635.2 532.1,639.4 535.9,636.6 540.0,638.0 543.3,634.7 546.9,634.1 550.4,635.1 553.9,634.1 557.2,632.5 560.0,633.0 563.8,635.3 567.0,632.6 570.2,635.0 573.3,637.3 576.3,639.1 580.0,638.0 582.2,636.6 585.1,634.9 588.0,635.2 590.8,636.5 593.5,638.2 598.0,635.0" stroke="#e8b440"/>
<polyline points="97.7,457.3 137.4,486.7 169.8,511.0 180.0,519.0 197.2,531.1 200.0,533.0 220.0,545.0 240.0,558.0 250.0,564.0 258.0,569.0 260.7,570.9 268.0,576.0 274.0,581.0 277.6,583.3 281.0,585.5 291.0,593.0 297.0,598.0 308.0,606.0 316.5,609.5 320.5,613.0 333.0,618.5 342.0,624.5 344.2,625.1 351.0,628.0 355.0,628.7 360.0,629.0 365.2,630.3 370.0,633.0 374.8,634.1 383.9,634.6 393.3,636.5 400.9,637.4 408.8,636.4 416.4,637.1 423.6,637.2 430.6,635.7 437.3,634.9 440.0,636.5 443.8,637.7 450.0,634.8 456.0,634.6 461.9,636.6 467.5,636.8 473.0,636.1 480.0,637.0 483.5,635.0 488.5,634.8 493.3,638.5 498.1,638.9 502.7,634.9 507.2,635.3 511.6,635.0 515.9,634.1 520.0,636.0 524.2,635.0 528.1,634.5 532.1,633.6 535.9,638.4 539.6,635.5 543.3,639.2 546.9,634.6 550.4,637.2 553.9,636.9 557.2,634.5 560.0,637.0 563.8,638.9 567.0,636.7 570.2,634.8 573.3,638.7 576.3,635.8 579.3,636.6 582.2,636.8 585.1,638.7 588.0,634.8 590.8,636.1 593.5,633.6 598.0,636.0" stroke="#40c840" stroke-dasharray="13 7.5"/>
<polyline points="97.7,489.3 135.0,516.7 137.4,519.4 145.7,528.7 165.0,544.0 169.8,547.9 178.3,554.7 197.0,571.3 218.3,582.0 221.0,583.7 236.0,593.0 241.9,598.3 245.0,601.0 258.3,613.7 260.7,615.0 266.0,618.0 270.0,620.8 279.0,625.3 292.5,628.3 304.5,635.0 307.3,637.2 318.0,644.0 320.5,646.2 330.0,649.3 332.8,651.2 345.0,653.0 354.0,657.5 360.0,659.0 365.2,660.5 374.8,660.1 380.0,662.0 383.9,660.7 392.0,662.0 400.9,665.9 404.0,666.0 408.8,667.4 416.4,664.9 420.0,665.0 423.6,665.2 430.6,663.0 436.0,665.0 443.8,667.5 448.0,668.0 456.0,670.1 460.0,667.0 467.5,662.3 470.0,660.0 473.0,660.1 478.3,662.4 483.5,661.7 487.5,665.0 493.3,664.4 500.0,664.0 502.7,667.1 507.2,663.7 512.5,667.5 515.9,667.1 520.1,666.2 524.2,663.8 530.0,660.0 535.9,661.1 539.6,660.9 543.3,662.5 546.9,667.0 550.0,666.0 553.9,665.1 557.2,663.5 560.6,666.1 563.8,662.5 567.0,665.3 570.2,663.4 575.0,662.5 579.3,660.6 582.2,662.3 585.1,657.3 587.5,658.8 592.0,668.0 598.0,661.0" stroke="#d42018"/>
<polyline points="97.7,482.0 137.4,504.0 169.8,522.0 180.0,528.0 197.2,535.8 200.0,537.0 220.0,547.0 240.0,557.0 252.0,564.5 260.0,571.0 270.0,578.0 277.6,581.8 280.0,583.0 290.0,587.0 293.1,588.1 300.0,590.0 308.0,591.5 320.5,592.4 327.0,594.5 332.8,596.5 337.5,599.0 344.2,600.4 355.0,602.9 360.0,605.0 365.2,604.5 374.8,604.6 383.9,604.8 393.3,605.0 400.9,606.3 408.8,604.6 416.4,604.8 420.0,606.0 423.6,604.1 430.6,607.8 437.3,607.1 440.0,606.0 443.8,605.1 450.0,604.5 456.0,608.0 461.9,604.8 467.5,604.7 473.0,605.9 480.0,605.0 483.5,603.7 488.5,603.1 493.3,602.1 498.1,606.6 502.7,605.8 507.2,605.6 511.6,603.5 515.9,601.9 520.0,604.0 524.2,603.5 528.1,606.6 532.1,602.1 535.9,601.5 539.6,606.1 543.3,605.6 546.9,601.3 550.4,604.3 553.9,605.9 557.2,605.9 560.0,603.0 563.8,604.8 567.0,603.9 570.2,600.6 573.3,605.4 576.3,602.8 579.3,600.2 582.2,601.0 585.1,603.7 588.0,601.8 590.8,600.9 593.5,601.1 598.0,602.0" stroke="#2a0c2a" stroke-dasharray="1.6 3.2"/>
<polyline points="242.0,582.0 250.0,593.0 254.0,597.0 259.0,603.0 264.0,606.5 271.0,609.0 276.0,610.5 283.0,614.5 288.0,617.0 293.1,619.4 295.5,622.0 307.5,631.3 319.5,632.8 330.0,641.0 332.8,643.3 342.0,647.0 344.2,649.5 352.5,654.5 355.0,656.1 365.2,660.3 370.0,663.3 374.8,665.3 383.9,672.0 393.3,675.0 398.0,676.0 400.9,677.0 408.8,677.8 416.7,680.0 425.0,683.0 430.6,685.7 437.0,688.0 443.8,688.9 451.0,692.0 456.0,690.6 461.9,689.4 467.5,694.4 470.0,692.0 473.0,690.0 478.3,690.9 483.5,693.0 490.0,690.0 493.3,691.3 498.1,690.6 502.7,694.1 507.2,690.4 510.0,693.0 515.9,691.2 520.1,691.2 524.2,689.5 530.0,691.0 535.9,688.4 539.6,692.3 543.3,691.3 546.9,690.0 550.0,690.0 553.9,688.5 557.2,689.1 560.6,693.0 563.8,693.7 567.0,695.2 570.0,693.0 573.3,693.1 576.3,694.6 579.3,694.0 582.2,688.9 585.1,688.9 588.0,689.0 590.8,692.4 593.5,689.9 598.0,690.0" stroke="#461488" stroke-dasharray="7 7"/>
</g>
<path d="M65.6,415.9 H597.6 V760.9 H65.6 Z" fill="none" stroke="#1a1a1a" stroke-width="1.2"/>
<path d="M65.6,428.18h5M597.6,428.18h-5M65.6,440.5h10M597.6,440.5h-10M65.6,452.82h5M597.6,452.82h-5M65.6,465.14h5M597.6,465.14h-5M65.6,477.46h5M597.6,477.46h-5M65.6,489.78h10M597.6,489.78h-10M65.6,502.1h5M597.6,502.1h-5M65.6,514.42h5M597.6,514.42h-5M65.6,526.74h5M597.6,526.74h-5M65.6,539.06h10M597.6,539.06h-10M65.6,551.38h5M597.6,551.38h-5M65.6,563.7h5M597.6,563.7h-5M65.6,576.02h5M597.6,576.02h-5M65.6,588.34h10M597.6,588.34h-10M65.6,600.66h5M597.6,600.66h-5M65.6,612.98h5M597.6,612.98h-5M65.6,625.3h5M597.6,625.3h-5M65.6,637.62h10M597.6,637.62h-10M65.6,649.94h5M597.6,649.94h-5M65.6,662.26h5M597.6,662.26h-5M65.6,674.58h5M597.6,674.58h-5M65.6,686.9h10M597.6,686.9h-10M65.6,699.22h5M597.6,699.22h-5M65.6,711.54h5M597.6,711.54h-5M65.6,723.86h5M597.6,723.86h-5M65.6,736.18h10M597.6,736.18h-10M65.6,748.5h5M597.6,748.5h-5M116.44,760.9v-3.7M116.44,415.9v3.7M156.13,760.9v-3.7M156.13,415.9v3.7M188.55,760.9v-3.7M188.55,415.9v3.7M215.97,760.9v-3.7M215.97,415.9v3.7M239.72,760.9v-3.7M239.72,415.9v3.7M260.66,760.9v-3.7M260.66,415.9v3.7M279.4,760.9v-7M279.4,415.9v7M402.67,760.9v-3.7M402.67,415.9v3.7M474.78,760.9v-3.7M474.78,415.9v3.7M525.94,760.9v-3.7M525.94,415.9v3.7M565.63,760.9v-3.7M565.63,415.9v3.7" stroke="#1a1a1a" stroke-width="1.1" fill="none"/>
<text transform="translate(48.22,447.60) scale(0.93,1)" font-size="22" font-family="'Liberation Sans', sans-serif">6</text>
<text transform="translate(48.22,496.88) scale(0.93,1)" font-size="22" font-family="'Liberation Sans', sans-serif">8</text>
<path transform="translate(36.84,546.16) scale(0.00999,-0.01074)" d="M555,0L735,0L735,1420L610,1420C590,1290 470,1195 207,1190L207,1040L555,1040Z"/>
<text transform="translate(48.22,546.16) scale(0.93,1)" font-size="22" font-family="'Liberation Sans', sans-serif">0</text>
<path transform="translate(36.84,595.44) scale(0.00999,-0.01074)" d="M555,0L735,0L735,1420L610,1420C590,1290 470,1195 207,1190L207,1040L555,1040Z"/>
<text transform="translate(48.22,595.44) scale(0.93,1)" font-size="22" font-family="'Liberation Sans', sans-serif">2</text>
<path transform="translate(36.84,644.72) scale(0.00999,-0.01074)" d="M555,0L735,0L735,1420L610,1420C590,1290 470,1195 207,1190L207,1040L555,1040Z"/>
<text transform="translate(48.22,644.72) scale(0.93,1)" font-size="22" font-family="'Liberation Sans', sans-serif">4</text>
<path transform="translate(36.84,694.00) scale(0.00999,-0.01074)" d="M555,0L735,0L735,1420L610,1420C590,1290 470,1195 207,1190L207,1040L555,1040Z"/>
<text transform="translate(48.22,694.00) scale(0.93,1)" font-size="22" font-family="'Liberation Sans', sans-serif">6</text>
<path transform="translate(36.84,743.28) scale(0.00999,-0.01074)" d="M555,0L735,0L735,1420L610,1420C590,1290 470,1195 207,1190L207,1040L555,1040Z"/>
<text transform="translate(48.22,743.28) scale(0.93,1)" font-size="22" font-family="'Liberation Sans', sans-serif">8</text>
<path transform="translate(273.41,788.30) scale(0.00999,-0.01074)" d="M555,0L735,0L735,1420L610,1420C590,1290 470,1195 207,1190L207,1040L555,1040Z"/>
<text x="331.6" y="811.4" text-anchor="middle" font-size="21.5" font-family="'Liberation Sans', sans-serif">separation (arcsec)</text>
<text transform="translate(18.6,583.5) rotate(-90)" text-anchor="middle" font-size="21.5" font-family="'Liberation Sans', sans-serif">Δmag (95% complete)</text>
<rect x="442.2" y="440.4" width="131.1" height="133.1" fill="#fff" stroke="#444" stroke-width="1.3"/>
<line x1="450.2" y1="446.9" x2="470" y2="446.9" stroke="#000000" stroke-width="1.8"/>
<text x="474.9" y="450.0" font-size="8.8" font-family="'Liberation Sans', sans-serif">HR 9, 20091205</text>
<line x1="450.2" y1="455.5" x2="470" y2="455.5" stroke="#48dcf0" stroke-width="1.8" stroke-dasharray="1.6 3.2"/>
<text x="474.9" y="458.6" font-size="8.8" font-family="'Liberation Sans', sans-serif">HD 15115, 20091204</text>
<line x1="450.2" y1="464.1" x2="470" y2="464.1" stroke="#30d030" stroke-width="1.8" stroke-dasharray="7 7"/>
<text x="474.9" y="467.2" font-size="8.8" font-family="'Liberation Sans', sans-serif">HD 15115, 20111107</text>
<line x1="450.2" y1="472.7" x2="470" y2="472.7" stroke="#e02818" stroke-width="1.8" stroke-dasharray="6.7 3.4 1.6 3.5"/>
<text x="474.9" y="475.8" font-size="8.8" font-family="'Liberation Sans', sans-serif">HD 15115, 20111122</text>
<line x1="450.2" y1="481.3" x2="470" y2="481.3" stroke="#200a24" stroke-width="1.8"/>
<text x="474.9" y="484.4" font-size="8.8" font-family="'Liberation Sans', sans-serif">GJ 182, 20090208</text>
<line x1="450.2" y1="489.9" x2="470" y2="489.9" stroke="#d87a30" stroke-width="1.8" stroke-dasharray="13 7.5"/>
<text x="474.9" y="493.0" font-size="8.8" font-family="'Liberation Sans', sans-serif">HIP 23309, 20090207</text>
<line x1="450.2" y1="498.5" x2="470" y2="498.5" stroke="#300a98" stroke-width="1.8"/>
<text x="474.9" y="501.6" font-size="8.8" font-family="'Liberation Sans', sans-serif">HIP 25486, 20090114</text>
<line x1="450.2" y1="507.1" x2="470" y2="507.1" stroke="#2a60cc" stroke-width="1.8" stroke-dasharray="1.6 3.2"/>
<text x="474.9" y="510.2" font-size="8.8" font-family="'Liberation Sans', sans-serif">Beta Pic, 20091202</text>
<line x1="450.2" y1="515.7" x2="470" y2="515.7" stroke="#e08a38" stroke-width="1.8" stroke-dasharray="7 7"/>
<text x="474.9" y="518.8" font-size="8.8" font-family="'Liberation Sans', sans-serif">AO Men, 20100110</text>
<line x1="450.2" y1="524.3" x2="470" y2="524.3" stroke="#30d4e8" stroke-width="1.8" stroke-dasharray="6.7 3.4 1.6 3.5"/>
<text x="474.9" y="527.4" font-size="8.8" font-family="'Liberation Sans', sans-serif">HD 139084 B, 20090211</text>
<line x1="450.2" y1="532.9" x2="470" y2="532.9" stroke="#e8b440" stroke-width="1.8"/>
<text x="474.9" y="536.0" font-size="8.8" font-family="'Liberation Sans', sans-serif">HD 155555 C, 20090408</text>
<line x1="450.2" y1="541.5" x2="470" y2="541.5" stroke="#40c840" stroke-width="1.8" stroke-dasharray="13 7.5"/>
<text x="474.9" y="544.6" font-size="8.8" font-family="'Liberation Sans', sans-serif">HD 155555 C, 20100410</text>
<line x1="450.2" y1="550.1" x2="470" y2="550.1" stroke="#d42018" stroke-width="1.8"/>
<text x="474.9" y="553.2" font-size="8.8" font-family="'Liberation Sans', sans-serif">CD−54 7336, 20090409</text>
<line x1="450.2" y1="558.7" x2="470" y2="558.7" stroke="#2a0c2a" stroke-width="1.8" stroke-dasharray="1.6 3.2"/>
<text x="474.9" y="561.8" font-size="8.8" font-family="'Liberation Sans', sans-serif">HD 164249B, 20090410</text>
<line x1="450.2" y1="567.3" x2="470" y2="567.3" stroke="#461488" stroke-width="1.8" stroke-dasharray="7 7"/>
<text x="474.9" y="570.4" font-size="8.8" font-family="'Liberation Sans', sans-serif">HD 164249B, 20100409</text>
</svg>
</body></html>
